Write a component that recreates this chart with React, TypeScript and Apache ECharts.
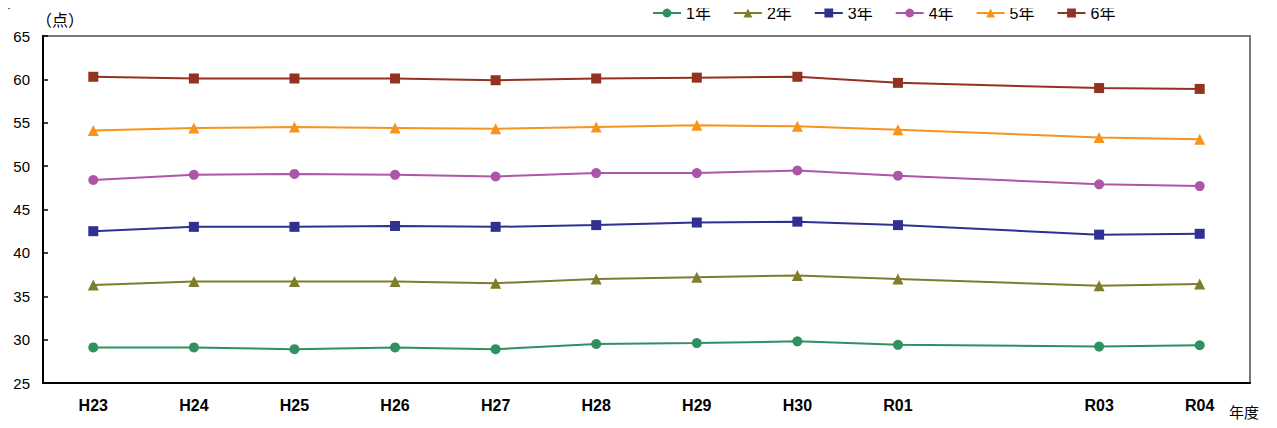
import React, { useEffect, useRef } from "react";
import * as echarts from "echarts";

const categories = ["H23", "H24", "H25", "H26", "H27", "H28", "H29", "H30", "R01", "", "R03", "R04"];
const seriesNames = ["1年", "2年", "3年", "4年", "5年", "6年"];
const grade1 = [29.1, 29.1, 28.9, 29.1, 28.9, 29.5, 29.6, 29.8, 29.4, null, 29.2, 29.35];
const grade2 = [36.3, 36.7, 36.7, 36.7, 36.5, 37.0, 37.2, 37.4, 37.0, null, 36.2, 36.4];
const grade3 = [42.5, 43.0, 43.0, 43.1, 43.0, 43.2, 43.5, 43.6, 43.2, null, 42.1, 42.2];
const grade4 = [48.4, 49.0, 49.1, 49.0, 48.8, 49.2, 49.2, 49.5, 48.9, null, 47.9, 47.7];
const grade5 = [54.1, 54.4, 54.5, 54.4, 54.3, 54.5, 54.7, 54.6, 54.2, null, 53.3, 53.1];
const grade6 = [60.3, 60.1, 60.1, 60.1, 59.9, 60.1, 60.2, 60.3, 59.6, null, 59.0, 58.9];
const allData = [grade1, grade2, grade3, grade4, grade5, grade6];
const colors = ["#2f9160", "#7e7d2c", "#2e3192", "#ad55a6", "#f7941d", "#943220"];
const symbols = ["circle", "triangle", "rect", "circle", "triangle", "rect"];
const symbolSizes = [10, 11, 10, 10, 11, 10];
const yTicks = { min: 25, max: 65, interval: 5 };

const FONT = "'Liberation Sans', Arial, 'Noto Sans CJK JP', sans-serif";

export default function App() {
  const ref = useRef<HTMLDivElement>(null);
  useEffect(() => {
    if (!ref.current) return;
    const chart = echarts.init(ref.current, null, { renderer: "svg" });
    chart.setOption({
      animation: false,
      textStyle: { fontFamily: FONT },
      grid: {
        left: 43,
        right: 27,
        top: 36,
        bottom: 45,
        show: true,
        borderColor: "#777",
        borderWidth: 2,
      },
      legend: {
        left: 647,
        top: 0,
        itemWidth: 28,
        itemHeight: 11,
        itemGap: 22,
        textStyle: { fontSize: 16, color: "#000", fontFamily: FONT },
        data: seriesNames,
      },
      xAxis: {
        type: "category",
        data: categories,
        boundaryGap: true,
        axisLine: { lineStyle: { color: "#000", width: 2 } },
        axisTick: { inside: true, length: 5, lineStyle: { color: "#000", width: 1.5 } },
        axisLabel: { fontSize: 16, fontWeight: "bold", color: "#000", margin: 14, fontFamily: FONT },
      },
      yAxis: {
        type: "value",
        min: yTicks.min,
        max: yTicks.max,
        interval: yTicks.interval,
        axisLine: { show: true, lineStyle: { color: "#000", width: 2 } },
        axisTick: { show: true, inside: true, length: 5, lineStyle: { color: "#000", width: 1.5 } },
        splitLine: { show: false },
        axisLabel: { fontSize: 15, color: "#000", margin: 13, fontFamily: FONT },
      },
      graphic: [
        { type: "text", left: 36, top: 12, style: { text: "（点）", fontSize: 16, fill: "#000", fontFamily: FONT } },
        { type: "text", left: 1229, top: 405, style: { text: "年度", fontSize: 15, fill: "#000", fontFamily: FONT } },
        { type: "text", x: -4, y: -6, style: { text: "度】", fontSize: 15, fill: "#000", fontFamily: FONT } },
      ],
      series: allData.map((d, i) => ({
        name: seriesNames[i],
        type: "line",
        data: d,
        connectNulls: true,
        symbol: symbols[i],
        symbolSize: symbolSizes[i],
        showAllSymbol: true,
        lineStyle: { color: colors[i], width: 2 },
        itemStyle: { color: colors[i] },
      })),
    });
    return () => chart.dispose();
  }, []);
  return <div ref={ref} style={{ width: 1277, height: 428, margin: -8 }} />;
}
